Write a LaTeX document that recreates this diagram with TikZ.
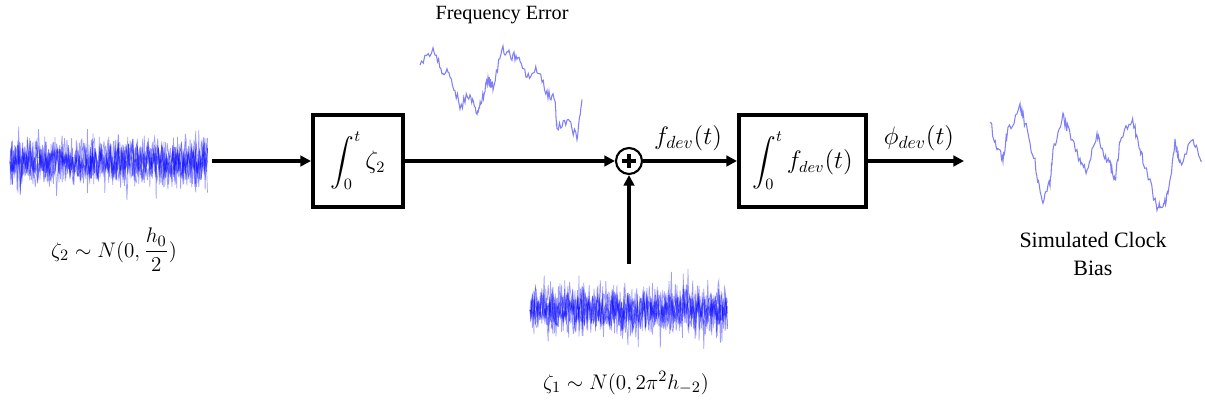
\documentclass[tikz,border=0pt]{standalone}
\usepackage{amsmath,amssymb}
\usepackage[no-math]{fontspec}
\setmainfont{Liberation Serif}
\usepackage{tikz}
\usetikzlibrary{arrows.meta,positioning}
\definecolor{noiseBlue}{RGB}{0,0,255}
\definecolor{walkBlue}{RGB}{105,105,245}

\begin{document}
\begin{tikzpicture}[x=0.02cm, y=-0.02cm,
    conn/.style={line width=1.9pt, -{Triangle[length=6pt,width=6pt]}},
    blockbox/.style={draw, line width=2.3pt, minimum height=1.84cm, inner sep=2pt, font=\fontsize{13.5}{16}\selectfont},
    sumnode/.style={draw, circle, line width=1.2pt, minimum size=0.52cm, inner sep=0pt},
    noise/.style={draw=noiseBlue, line width=0.4pt, opacity=0.38},
    walk/.style={draw=walkBlue, line width=0.6pt, opacity=0.85},
    lab/.style={font=\fontsize{13}{15}\selectfont}]
    \useasboundingbox (0,0) rectangle (1205,405);
    \pgfmathsetseed{11}

    % white noise sources
    \foreach \pass in {1,...,6}{
        \draw[noise] (10,162) \foreach \i in {1,...,250}{ -- ({10+\i*0.79},{162+9*(rand+rand+rand+rand)+30*rand*rand*rand}) };
        \draw[noise] (530,310) \foreach \i in {1,...,250}{ -- ({530+\i*0.79},{310+9*(rand+rand+rand+rand)+30*rand*rand*rand}) };
    }
    \coordinate (zetaTwoEnd) at (212,161);
    \coordinate (zetaOneTop) at (629,264);
    \coordinate (out) at (964,161);

    % random walks
    \draw[walk] (420,65) \foreach \xb/\yb [remember=\xb as \xa (initially 420), remember=\yb as \ya (initially 65)] in
        {433/47,442/72,450/72,460/107,470/93,477/117,482/100,488/80,493/87,502/48,510/55,518/57,527/77,537/70,547/93,555/100,557/130,567/120,577/137,582/97}
        { \foreach \j in {1,...,8}{ -- ({\xa+(\xb-\xa)*\j/8},{\ya+(\yb-\ya)*\j/8+5*rand}) } };
    \draw[walk] (990,123) \foreach \xb/\yb [remember=\xb as \xa (initially 990), remember=\yb as \ya (initially 123)] in
        {997/147,1003/158,1008/130,1020/108,1025/123,1035/162,1042/205,1050/183,1053/152,1063/117,1068/130,1080/160,1087/170,1097/135,1103/155,1110/165,1115/182,1120/140,1132/117,1137/137,1143/160,1157/207,1163/207,1168/193,1175/143,1180/165,1193/140,1202/160}
        { \foreach \j in {1,...,8}{ -- ({\xa+(\xb-\xa)*\j/8},{\ya+(\yb-\ya)*\j/8+5*rand}) } };

    \node[blockbox, minimum width=1.8cm] (intA) at (358,161) {$\displaystyle\int_0^t\zeta_2$};
    \node[sumnode] (sum) at (629,161) {};
    \draw[line width=2.4pt] (sum.center) ++(-7,0) -- ++(14,0) (sum.center) ++(0,-7) -- ++(0,14);
    \node[blockbox, minimum width=2.54cm] (intB) at (802.5,161) {$\displaystyle\int_0^t f_{dev}(t)$};

    \draw[conn] (zetaTwoEnd) -- (intA);
    \draw[conn] (intA) -- (sum);
    \draw[conn] (zetaOneTop) -- (sum);
    \draw[conn] (sum) -- (intB);
    \draw[conn] (intB) -- (out);

    \node[font=\Large] (fdev) at (688,138) {$f_{dev}(t)$};
    \node[font=\Large] (phidev) at (919,138) {$\phi_{dev}(t)$};
    \node[lab] (zetaTwo) at (114,250) {$\zeta_2\sim N(0,\dfrac{h_0}{2})$};
    \node[lab] (zetaOne) at (626,383) {$\zeta_1\sim N(0,2\pi^2h_{-2})$};
    \node[font=\fontsize{11.5}{13}\selectfont] (freqErr) at (502,15) {Frequency Error};
    \node[font=\fontsize{12.5}{15.5}\selectfont, align=center] (clockBias) at (1093,254) {Simulated Clock\\Bias};
\end{tikzpicture}
\end{document}
